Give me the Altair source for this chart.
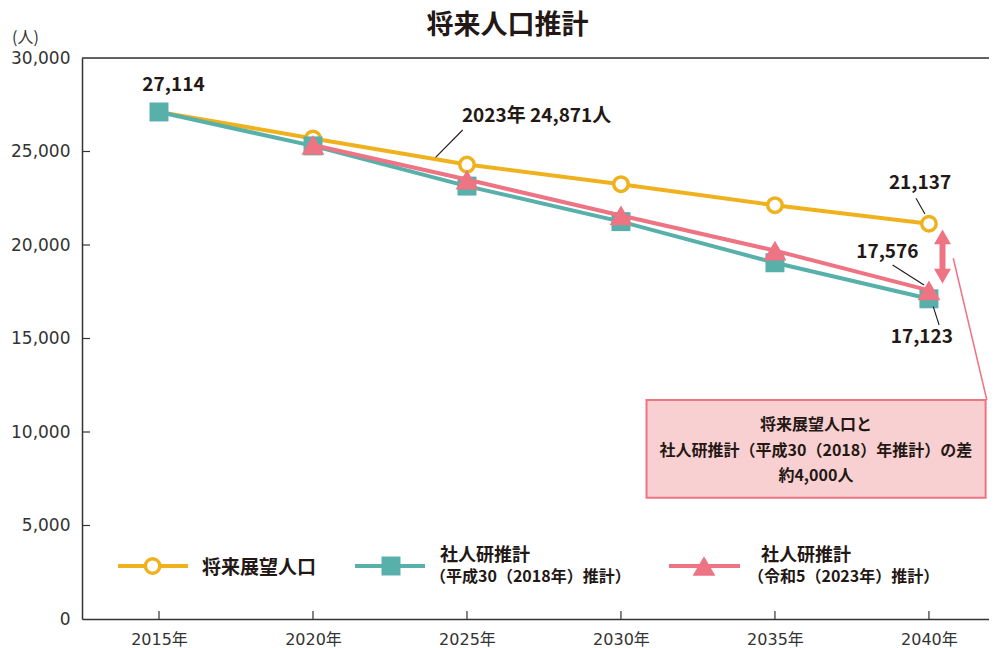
import altair as alt
import pandas as pd

# ---------------- data ----------------
years = [2015, 2020, 2025, 2030, 2035, 2040]
vision = [27114, 25700, 24300, 23250, 22130, 21137]          # 将来展望人口
ipss2018 = [27114, 25300, 23150, 21250, 19050, 17123]        # 社人研推計（平成30）
ipss2023_years = [2020, 2025, 2030, 2035, 2040]
ipss2023 = [25350, 23500, 21580, 19700, 17576]               # 社人研推計（令和5）
y_ticks = [0, 5000, 10000, 15000, 20000, 25000, 30000]
inner_y_ticks = [5000, 10000, 15000, 20000, 25000]

# annotation texts and anchors (data units)
value_labels = ["27,114", "21,137", "17,576", "17,123"]
value_label_x = [2015.47, 2039.71, 2038.65, 2039.77]
value_label_y = [28556, 23316, 19642, 15096]
note_text = "2023年 24,871人"
leader_x = [2024.86, 2039.58, 2038.82, 2040.14]
leader_y = [26150, 22497, 18930, 16701]
leader_x2 = [2023.98, 2039.87, 2039.84, 2040.33]
leader_y2 = [24690, 21658, 17861, 15722]
callout_text = "将来展望人口と\n社人研推計（平成30（2018）年推計）の差\n約4,000人"

YELLOW = "#EFB21E"
TEAL = "#58B0AB"
PINK = "#EE7383"
BOXFILL = "#F9D0D1"
INK = "#231815"
AXC = "#333333"
FONT = "Noto Sans CJK JP"
AXFONT = "DejaVu Sans, Noto Sans CJK JP"

W, H = 907, 561

xscale = alt.Scale(domain=[2012.5, 2041.95], nice=False, zero=False)
yscale = alt.Scale(domain=[0, 30000], nice=False, zero=True)

xaxis = alt.Axis(values=years, labelExpr="datum.value + '年'", ticks=False, grid=False,
                 domainColor=AXC, domainWidth=1.5, labelFontSize=16, labelColor=AXC,
                 labelPadding=12, title=None, labelFont=AXFONT)
yaxis = alt.Axis(values=y_ticks, labelExpr="format(datum.value, ',')", ticks=False, grid=False,
                 domainColor=AXC, domainWidth=1.5, labelFontSize=17, labelColor=AXC,
                 labelPadding=12, labelFont=AXFONT, title="(人)", titleAngle=0,
                 titleX=-57, titleY=-20.5, titleAlign="center", titleBaseline="middle",
                 titleFontSize=16, titleFontWeight="normal", titleColor=AXC, titleFont=FONT)


def X(f="x"):
    return alt.X(f"{f}:Q", scale=xscale, axis=xaxis)


def Y(f="y"):
    return alt.Y(f"{f}:Q", scale=yscale, axis=yaxis)


one = pd.DataFrame({"a": [0]})

vis_df = pd.DataFrame({"x": years, "y": vision})
s18_df = pd.DataFrame({"x": years, "y": ipss2018})
s23_df = pd.DataFrame({"x": ipss2023_years, "y": ipss2023})

# frame & inward ticks
top_line = alt.Chart(pd.DataFrame({"y": [30000]})).mark_rule(color=AXC, strokeWidth=1.5).encode(
    y=Y(), x=alt.value(0), x2=alt.value(W))
ytick = alt.Chart(pd.DataFrame({"y": inner_y_ticks})).mark_rule(color=AXC, strokeWidth=1.2).encode(
    y=Y(), x=alt.value(0), x2=alt.value(8))
xtick = alt.Chart(pd.DataFrame({"x": years})).mark_rule(color=AXC, strokeWidth=1.2).encode(
    x=X(), y=alt.value(H), y2=alt.value(H - 8))

# series
vis_line = alt.Chart(vis_df).mark_line(color=YELLOW, strokeWidth=4).encode(x=X(), y=Y())
vis_pts = alt.Chart(vis_df).mark_point(shape="circle", filled=True, fill="white", stroke=YELLOW,
                                       strokeWidth=3.5, size=210, opacity=1).encode(x=X(), y=Y())
s18_line = alt.Chart(s18_df).mark_line(color=TEAL, strokeWidth=4).encode(x=X(), y=Y())
s18_pts = alt.Chart(s18_df).mark_point(shape="square", filled=True, color=TEAL, size=360,
                                       opacity=1).encode(x=X(), y=Y())
s23_line = alt.Chart(s23_df).mark_line(color=PINK, strokeWidth=4).encode(x=X(), y=Y())
s23_pts = alt.Chart(s23_df).mark_point(shape="triangle-up", filled=True, color=PINK, size=520,
                                       opacity=1).encode(x=X(), y=Y())

# annotations
lab_df = pd.DataFrame({"x": value_label_x, "y": value_label_y, "t": value_labels})
labels = alt.Chart(lab_df).mark_text(font=FONT, fontSize=19, fontWeight="bold", color=INK,
                                     baseline="middle", align="center").encode(
    x=X(), y=Y(), text="t:N")
note = alt.Chart(pd.DataFrame({"x": [2027.26], "y": [26898], "t": [note_text]})).mark_text(
    font=FONT, fontSize=19, fontWeight="bold", color=INK, baseline="middle", align="center").encode(
    x=X(), y=Y(), text="t:N")
lead_df = pd.DataFrame({"x": leader_x, "y": leader_y, "x2": leader_x2, "y2": leader_y2})
leaders = alt.Chart(lead_df).mark_rule(color=INK, strokeWidth=1.1).encode(
    x=X(), y=Y(), x2="x2:Q", y2="y2:Q")

connector = alt.Chart(pd.DataFrame({"x": [2040.79], "y": [19289], "x2": [2041.88], "y2": [11711]})).mark_rule(
    color=PINK, strokeWidth=1.5).encode(x=X(), y=Y(), x2="x2:Q", y2="y2:Q")
arrow_shaft = alt.Chart(pd.DataFrame({"x": [2040.44], "y": [20428], "y2": [18342]})).mark_rule(
    color=PINK, strokeWidth=6).encode(x=X(), y=Y(), y2="y2:Q")
arrow_up = alt.Chart(pd.DataFrame({"x": [2040.44], "y": [20428]})).mark_point(
    shape="triangle-up", filled=True, color=PINK, size=290, opacity=1).encode(x=X(), y=Y())
arrow_dn = alt.Chart(pd.DataFrame({"x": [2040.44], "y": [18342]})).mark_point(
    shape="triangle-down", filled=True, color=PINK, size=290, opacity=1).encode(x=X(), y=Y())

box = alt.Chart(pd.DataFrame({"x": [2030.83], "x2": [2041.84], "y": [11711], "y2": [6487]})).mark_rect(
    fill=BOXFILL, stroke=PINK, strokeWidth=2).encode(x=X(), x2="x2:Q", y=Y(), y2="y2:Q")
box_text = alt.Chart(pd.DataFrame({"x": [2036.33], "y": [10374], "t": [callout_text]})).mark_text(
    font=FONT, fontSize=16, fontWeight="bold", color=INK, lineBreak="\n", lineHeight=25.5,
    align="center", baseline="middle").encode(x=X(), y=Y(), text="t:N")

# title
title = alt.Chart(one).mark_text(font=FONT, fontSize=27, fontWeight="bold", color=INK,
                                 align="center", baseline="middle").encode(
    x=alt.value(425.5), y=alt.value(-32), text=alt.value("将来人口推計"))


# legend (manual)
def lg_rule(x1, x2, y, c):
    return alt.Chart(one).mark_rule(color=c, strokeWidth=4).encode(
        x=alt.value(x1), x2=alt.value(x2), y=alt.value(y))


def lg_text(x, y, t, size):
    return alt.Chart(one).mark_text(font=FONT, fontSize=size, fontWeight="bold", color=INK,
                                    align="left", baseline="middle").encode(
        x=alt.value(x), y=alt.value(y), text=alt.value(t))


LY = 508
legend = [
    lg_rule(36, 106, LY, YELLOW),
    alt.Chart(one).mark_point(shape="circle", filled=True, fill="white", stroke=YELLOW, strokeWidth=3.5,
                              size=210, opacity=1).encode(x=alt.value(70.6), y=alt.value(LY)),
    lg_text(120, LY + 2, "将来展望人口", 19),
    lg_rule(273, 343, LY, TEAL),
    alt.Chart(one).mark_point(shape="square", filled=True, color=TEAL, size=360, opacity=1).encode(
        x=alt.value(309), y=alt.value(LY)),
    lg_text(358, LY - 10.5, "社人研推計", 18),
    lg_text(348, LY + 11, "（平成30（2018年）推計）", 16),
    lg_rule(587, 658, LY, PINK),
    alt.Chart(one).mark_point(shape="triangle-up", filled=True, color=PINK, size=520, opacity=1).encode(
        x=alt.value(622), y=alt.value(LY)),
    lg_text(679, LY - 10.5, "社人研推計", 18),
    lg_text(666, LY + 11, "（令和5（2023年）推計）", 16),
]

chart = alt.layer(
    top_line, ytick, xtick,
    vis_line, vis_pts, s18_line, s18_pts, s23_line, s23_pts,
    leaders, labels, note, connector, arrow_shaft, arrow_up, arrow_dn, box, box_text,
    title, *legend,
).properties(
    width=W, height=H,
    autosize=alt.AutoSizeParams(type="none"),
    padding={"left": 74, "top": 50, "right": 0, "bottom": 30},
).configure_view(stroke=None).configure(font=FONT)

chart.save("out.html", embed_options={"renderer": "svg", "actions": False})
